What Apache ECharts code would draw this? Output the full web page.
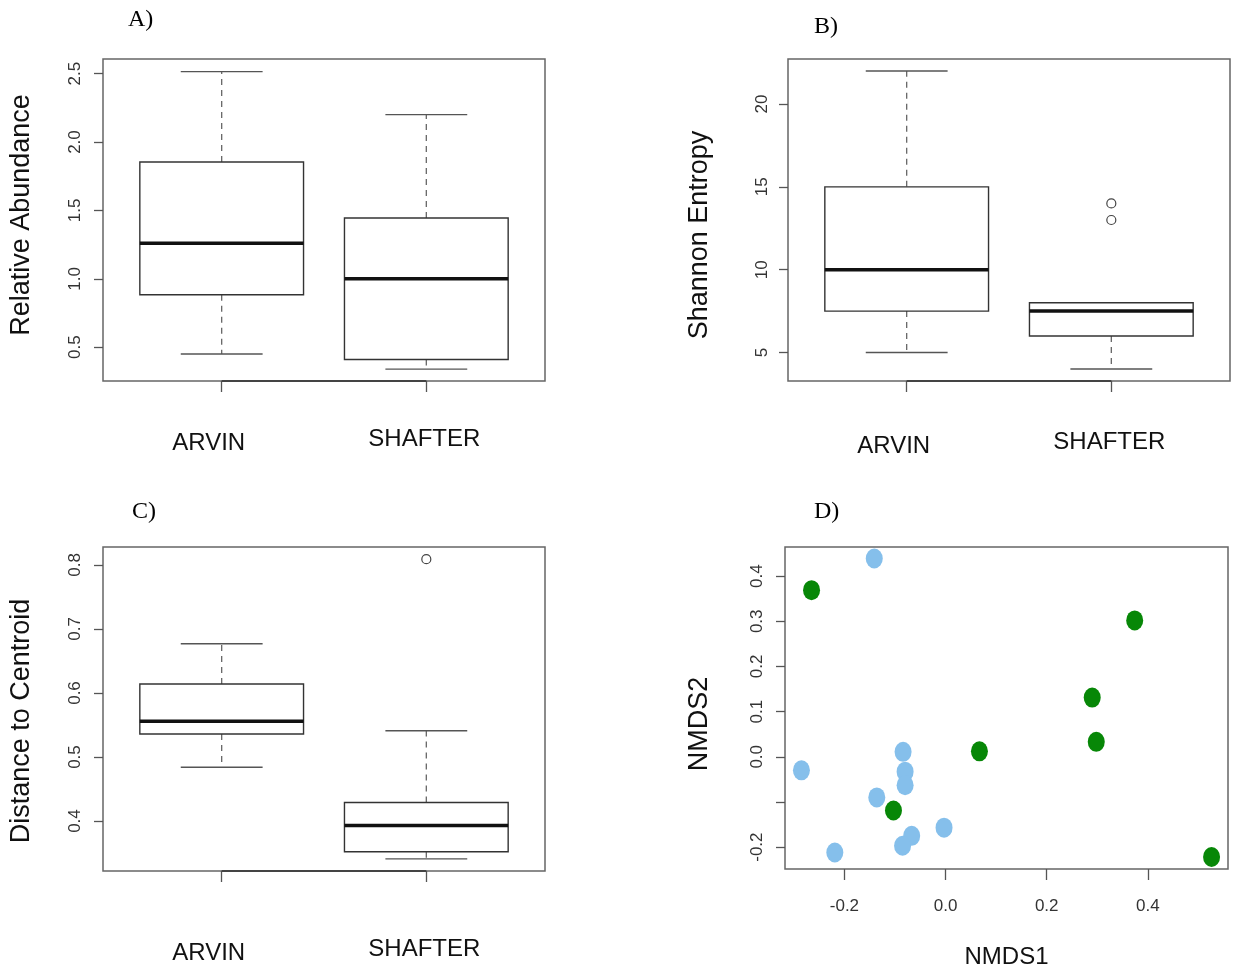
<!DOCTYPE html>
<html>
<head>
<meta charset="utf-8">
<script src="https://cdn.jsdelivr.net/npm/echarts@6/dist/echarts.min.js"></script>
<style>
html,body{margin:0;padding:0;background:#fff;}
#chart{width:1233px;height:970px;}
</style>
</head>
<body>
<div id="chart"></div>
<script>
// ---- data ----
const categories = ['ARVIN', 'SHAFTER'];
// each box: [lower whisker, Q1, median, Q3, upper whisker]
const abundanceStats = [[0.45, 0.883, 1.26, 1.854, 2.515], [0.34, 0.41, 1.00, 1.445, 2.20]];
const entropyStats = [[5, 7.5, 10, 15, 22], [4, 6, 7.5, 8, 8]];
const entropyOutliers = [[2, 13], [2, 14]];
const centroidStats = [[0.484, 0.536, 0.556, 0.614, 0.677], [0.341, 0.352, 0.393, 0.429, 0.541]];
const centroidOutliers = [[2, 0.809]];
const abundanceTicks = [0.5, 1.0, 1.5, 2.0, 2.5];
const entropyTicks = [5, 10, 15, 20];
const centroidTicks = [0.4, 0.5, 0.6, 0.7, 0.8];
const nmdsBlue = [[-0.141, 0.439], [-0.285, -0.030], [-0.084, 0.011], [-0.080, -0.033], [-0.080, -0.063],
                  [-0.136, -0.090], [-0.067, -0.175], [-0.085, -0.197], [-0.003, -0.157], [-0.219, -0.212]];
const nmdsGreen = [[-0.265, 0.369], [0.374, 0.302], [0.290, 0.131], [0.298, 0.033], [0.067, 0.012],
                   [-0.103, -0.119], [0.526, -0.222]];
const nmdsXTicks = [-0.2, 0.0, 0.2, 0.4];
const nmdsYTicks = [-0.2, -0.1, 0.0, 0.1, 0.2, 0.3, 0.4];
const nmdsYLabels = [-0.2, 0.0, 0.1, 0.2, 0.3, 0.4];

const chart = echarts.init(document.getElementById('chart'));
const sans = 'Liberation Sans, Arial, sans-serif';

function boxData(stats) {
  return stats.map((s, i) => [i + 1].concat(s));
}

function renderBox(params, api) {
  const x = api.value(0), lo = api.value(1), q1 = api.value(2), med = api.value(3), q3 = api.value(4), hi = api.value(5);
  const hw = 0.4, sw = 0.2;
  const tl = api.coord([x - hw, q3]);
  const br = api.coord([x + hw, q1]);
  const m1 = api.coord([x - hw, med]), m2 = api.coord([x + hw, med]);
  const c3 = api.coord([x, q3]), cHi = api.coord([x, hi]);
  const c1 = api.coord([x, q1]), cLo = api.coord([x, lo]);
  const sHiL = api.coord([x - sw, hi]), sHiR = api.coord([x + sw, hi]);
  const sLoL = api.coord([x - sw, lo]), sLoR = api.coord([x + sw, lo]);
  const children = [];
  if (hi > q3) {
    children.push({type: 'line', shape: {x1: c3[0], y1: c3[1], x2: cHi[0], y2: cHi[1]},
      style: {stroke: '#666', lineWidth: 1.3, lineDash: [6, 5]}});
  }
  if (lo < q1) {
    children.push({type: 'line', shape: {x1: c1[0], y1: c1[1], x2: cLo[0], y2: cLo[1]},
      style: {stroke: '#666', lineWidth: 1.3, lineDash: [6, 5]}});
  }
  children.push({type: 'line', shape: {x1: sHiL[0], y1: sHiL[1], x2: sHiR[0], y2: sHiR[1]},
    style: {stroke: '#555', lineWidth: 1.4}});
  children.push({type: 'line', shape: {x1: sLoL[0], y1: sLoL[1], x2: sLoR[0], y2: sLoR[1]},
    style: {stroke: '#555', lineWidth: 1.4}});
  children.push({type: 'rect', shape: {x: tl[0], y: tl[1], width: br[0] - tl[0], height: br[1] - tl[1]},
    style: {fill: '#fff', stroke: '#333', lineWidth: 1.4}});
  children.push({type: 'line', shape: {x1: m1[0], y1: m1[1], x2: m2[0], y2: m2[1]},
    style: {stroke: '#111', lineWidth: 3.5}});
  return {type: 'group', children: children};
}

function boxXAxis(gi, margin) {
  return {
    gridIndex: gi, type: 'value', min: 0.42, max: 2.58,
    axisLine: {show: false, onZero: false},
    splitLine: {show: false},
    axisTick: {show: true, customValues: [1, 2], length: 11, lineStyle: {color: '#555', width: 1.3}},
    axisLabel: {show: true, customValues: [1, 2], margin: margin,
      formatter: v => (Math.round(v) === 1 ? '{a|' : '{b|') + categories[Math.round(v) - 1] + '}',
      rich: {
        a: {fontFamily: sans, fontSize: 24, color: '#111', padding: [4, 26, 0, 0]},
        b: {fontFamily: sans, fontSize: 24, color: '#111', padding: [0, 4, 0, 0]}
      },
      fontFamily: sans, fontSize: 24, color: '#111'}
  };
}

function yAxisDef(gi, min, max, ticks, labels, name, gap, shift, labelMargin) {
  const pad = shift >= 0 ? [0, 2 * shift, 0, 0] : [0, 0, 0, -2 * shift];
  const allInt = ticks.every(t => t % 1 === 0);
  return {
    gridIndex: gi, type: 'value', min: min, max: max,
    axisLine: {show: false, onZero: false},
    splitLine: {show: false},
    axisTick: {show: true, customValues: ticks, length: 9, lineStyle: {color: '#555', width: 1.3}},
    axisLabel: {show: true, customValues: labels, rotate: 90, margin: labelMargin,
      formatter: v => (allInt ? String(Math.round(v)) : v.toFixed(1)),
      fontFamily: sans, fontSize: 17, color: '#333'},
    name: name, nameLocation: 'middle', nameRotate: 90, nameGap: gap,
    nameTextStyle: {fontFamily: sans, fontSize: 27, color: '#111', padding: pad}
  };
}

function axisBaseLine(min) {
  return {
    silent: true, symbol: 'none', label: {show: false},
    lineStyle: {color: '#444', width: 2, type: 'solid'},
    data: [[{coord: [1, min]}, {coord: [2, min]}]]
  };
}

const grids = [
  {left: 103, top: 59, width: 442, height: 322},
  {left: 788, top: 59, width: 442, height: 322},
  {left: 103, top: 547, width: 442, height: 324},
  {left: 785, top: 547, width: 443, height: 323}
].map(g => Object.assign({show: true, borderColor: '#666', borderWidth: 1.5, backgroundColor: 'transparent'}, g));

const titleStyle = {fontFamily: 'Liberation Serif, Times New Roman, serif', fontSize: 24, fill: '#000'};

const option = {
  backgroundColor: '#fff',
  animation: false,
  grid: grids,
  xAxis: [
    boxXAxis(0, 46),
    boxXAxis(1, 49),
    boxXAxis(2, 66),
    {
      gridIndex: 3, type: 'value', min: -0.3175, max: 0.5585,
      axisLine: {show: false, onZero: false}, splitLine: {show: false},
      axisTick: {show: true, customValues: nmdsXTicks, length: 11, lineStyle: {color: '#555', width: 1.3}},
      axisLabel: {show: true, customValues: nmdsXTicks, margin: 29,
        formatter: v => v.toFixed(1), fontFamily: sans, fontSize: 17, color: '#333'},
      name: 'NMDS1', nameLocation: 'middle', nameGap: 76,
      nameTextStyle: {fontFamily: sans, fontSize: 24, color: '#111'}
    }
  ],
  yAxis: [
    yAxisDef(0, 0.253, 2.607, abundanceTicks, abundanceTicks, 'Relative Abundance', 68, -5, 19),
    yAxisDef(1, 3.28, 22.72, entropyTicks, entropyTicks, 'Shannon Entropy', 75, 15, 17),
    yAxisDef(2, 0.322, 0.828, centroidTicks, centroidTicks, 'Distance to Centroid', 68, 12, 19),
    yAxisDef(3, -0.2485, 0.4645, nmdsYTicks, nmdsYLabels, 'NMDS2', 72, 16, 19)
  ],
  series: [
    {type: 'custom', xAxisIndex: 0, yAxisIndex: 0, renderItem: renderBox, data: boxData(abundanceStats),
     encode: {x: 0, y: [1, 2, 3, 4, 5]}, markLine: axisBaseLine(0.253)},
    {type: 'custom', xAxisIndex: 1, yAxisIndex: 1, renderItem: renderBox, data: boxData(entropyStats),
     encode: {x: 0, y: [1, 2, 3, 4, 5]}, markLine: axisBaseLine(3.28)},
    {type: 'scatter', xAxisIndex: 1, yAxisIndex: 1, data: entropyOutliers, symbol: 'circle', symbolSize: 9,
     itemStyle: {color: '#fff', borderColor: '#444', borderWidth: 1.2, opacity: 1}},
    {type: 'custom', xAxisIndex: 2, yAxisIndex: 2, renderItem: renderBox, data: boxData(centroidStats),
     encode: {x: 0, y: [1, 2, 3, 4, 5]}, markLine: axisBaseLine(0.322)},
    {type: 'scatter', xAxisIndex: 2, yAxisIndex: 2, data: centroidOutliers, symbol: 'circle', symbolSize: 9,
     itemStyle: {color: '#fff', borderColor: '#444', borderWidth: 1.2, opacity: 1}},
    {type: 'scatter', name: 'blue', xAxisIndex: 3, yAxisIndex: 3, data: nmdsBlue, symbol: 'circle', symbolSize: [17, 20],
     itemStyle: {color: '#85BFEB', opacity: 1}},
    {type: 'scatter', name: 'green', xAxisIndex: 3, yAxisIndex: 3, data: nmdsGreen, symbol: 'circle', symbolSize: [17, 20],
     itemStyle: {color: '#078707', opacity: 1}}
  ],
  graphic: [
    {type: 'text', left: 128, top: 8, style: Object.assign({text: 'A)'}, titleStyle)},
    {type: 'text', left: 814, top: 15, style: Object.assign({text: 'B)'}, titleStyle)},
    {type: 'text', left: 132, top: 500, style: Object.assign({text: 'C)'}, titleStyle)},
    {type: 'text', left: 814, top: 500, style: Object.assign({text: 'D)'}, titleStyle)}
  ]
};
chart.setOption(option);
</script>
</body>
</html>
